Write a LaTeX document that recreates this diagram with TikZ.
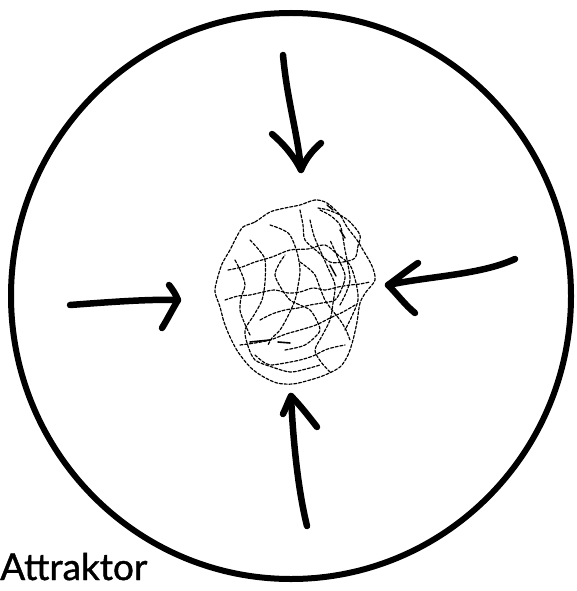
\documentclass[tikz,border=0pt]{standalone}
\usepackage{fontspec}
\setmainfont{Lato}
\newfontfamily\labfont[FakeBold=1.2]{Lato}
\begin{document}
\begin{tikzpicture}[x=1pt,y=-1pt,
  thick line/.style={line width=6pt,line cap=round,line join=round},
  arrow line/.style={line width=6.5pt,line cap=round,line join=round},
  scribble/.style={line width=1.2pt,dash pattern=on 3pt off 1.8pt,line cap=round,line join=round}]
\useasboundingbox (0,0) rectangle (577,591);
% outer circle
\coordinate (c) at (291,296);
\draw[thick line] (c) ellipse[x radius=280, y radius=283];
% arrows
\coordinate (t0) at (283,55); \coordinate (t1) at (301,170);
\draw[arrow line] (t0) .. controls (287,100) and (298,135) .. (t1);
\draw[arrow line] (272,134) .. controls (285,145) and (295,158) .. (t1) .. controls (306,158) and (313,150) .. (321,143);
\coordinate (r0) at (515,259); \coordinate (r1) at (388,285);
\draw[arrow line] (r0) .. controls (480,275) and (430,276) .. (r1);
\draw[arrow line] (418,263) .. controls (405,272) and (395,280) .. (r1) .. controls (398,295) and (405,305) .. (415,313);
\coordinate (l0) at (70,305); \coordinate (l1) at (178,300);
\draw[arrow line] (l0) .. controls (110,302) and (150,299) .. (l1);
\draw[arrow line] (169,285) .. controls (173,290) and (176,295) .. (l1) .. controls (172,310) and (167,320) .. (162,328);
\coordinate (b0) at (307,526); \coordinate (b1) at (291,396);
\draw[arrow line] (b0) .. controls (298,490) and (293,440) .. (b1);
\draw[arrow line] (283,414) .. controls (286,408) and (288,402) .. (b1) .. controls (300,405) and (310,418) .. (317,427);
% attractor scribble
\draw[scribble] plot[smooth cycle,tension=0.5] coordinates {(243,227) (255,222) (270,212) (285,208) (300,205) (315,200) (327,203) (340,215) (347,227) (357,240) (363,250) (372,266) (375,280) (366,292) (360,303) (357,322) (353,340) (348,355) (340,367) (325,375) (310,380) (293,384) (277,383) (262,376) (250,367) (238,352) (230,337) (224,322) (220,307) (215,292) (217,280) (222,264) (230,250) (236,238)};
\draw[scribble] plot[smooth,tension=0.5] coordinates {(300,210) (303,225) (305,240) (318,252) (330,262) (343,262) (355,258) (358,246) (360,235) (350,222) (340,215) (328,210) (318,208)};
\draw[scribble] plot[smooth,tension=0.5] coordinates {(228,270) (242,267) (255,262) (272,257) (290,250) (308,249) (325,245) (338,255) (350,265) (356,283) (358,300) (352,316) (345,330)};
\draw[scribble] plot[smooth,tension=0.5] coordinates {(240,345) (255,343) (270,340) (286,334) (300,330) (316,325) (330,318) (343,312) (355,305)};
\draw[scribble] plot[smooth,tension=0.5] coordinates {(250,240) (259,250) (265,260) (265,282) (262,300) (254,315) (245,330) (248,346) (255,360) (272,367) (290,372) (306,369) (320,365)};
\draw[scribble] plot[smooth,tension=0.5] coordinates {(270,225) (281,229) (290,235) (297,252) (300,270) (298,286) (295,300) (288,316) (280,330) (272,338) (268,345)};
\draw[scribble] plot[smooth,tension=0.5] coordinates {(310,220) (314,236) (320,250) (328,268) (335,285) (333,303) (330,320) (322,336) (315,350) (321,362) (330,372)};
\draw[scribble] plot[smooth,tension=0.5] coordinates {(225,300) (238,296) (250,295) (263,292) (275,290) (288,293) (300,292) (313,288) (325,290) (338,287) (350,285) (360,284) (370,282)};
\draw[scribble] plot[smooth,tension=0.5] coordinates {(260,320) (272,314) (285,310) (298,308) (310,305) (322,303) (335,300) (342,288) (345,275) (338,258) (330,240)};
\draw[scribble] plot[smooth,tension=0.5] coordinates {(235,260) (241,272) (245,285) (241,298) (240,310) (244,322) (250,335)};
\draw[scribble] plot[smooth,tension=0.5] coordinates {(285,350) (295,348) (305,345) (314,338) (320,330) (316,319) (310,310) (300,305) (290,300) (281,288) (275,275) (279,264) (285,255)};
\draw[scribble] plot[smooth,tension=0.5] coordinates {(320,210) (331,216) (340,225) (343,238) (345,250) (348,265) (350,280) (346,293) (340,305)};
\draw[scribble] plot[smooth,tension=0.5] coordinates {(255,355) (262,361) (270,365) (285,363) (300,360) (313,356) (325,350) (335,347) (345,345)};
\draw[scribble] plot[smooth,tension=0.5] coordinates {(300,262) (308,268) (315,275) (320,288) (325,300) (332,310) (340,320) (346,330) (350,340)};
\draw[line width=1.6pt,line cap=round] (250,342) -- (270,340) (278,342) -- (290,343);
\draw[line width=1.4pt,line cap=round] (330,265) -- (336,276) (340,230) -- (345,238) (327,205) -- (333,210);
% label
\node[anchor=base west,inner sep=0pt,font=\labfont\fontsize{37}{37}\selectfont] (lab) at (0,580) {Attraktor};
\end{tikzpicture}
\end{document}
